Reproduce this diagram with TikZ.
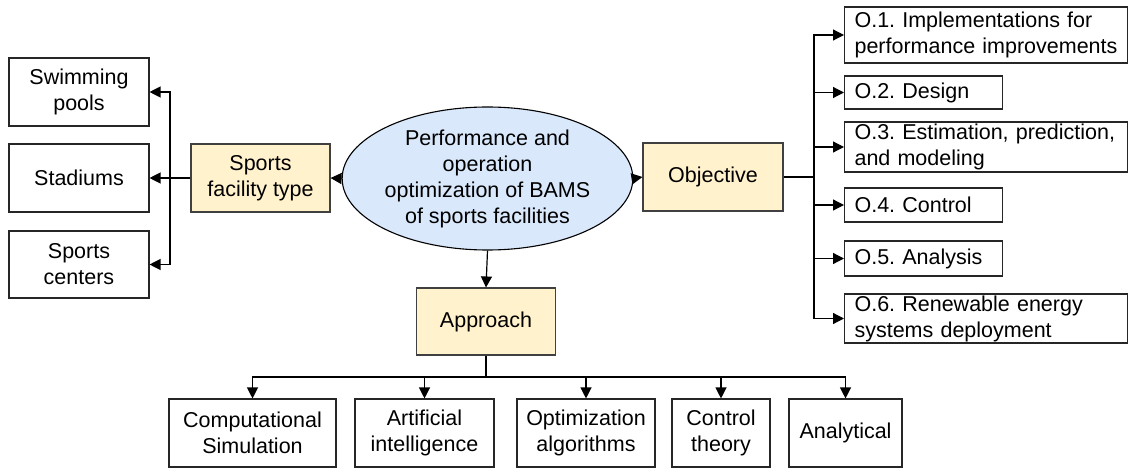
\documentclass[tikz,border=0pt]{standalone}
\usepackage{fontspec}
\setmainfont{Liberation Sans}
\usetikzlibrary{arrows.meta,shapes.geometric}
\definecolor{yel}{HTML}{FFF2CC}
\definecolor{blu}{HTML}{DAE8FC}
\frenchspacing
\begin{document}
\begin{tikzpicture}[x=1pt,y=-1pt,
  every node/.style={font=\fontsize{21.5}{26}\selectfont\frenchspacing, inner sep=0pt},
  wbox/.style={draw=black!85, fill=white, line width=1.1pt, align=center},
  ybox/.style={draw=black!75, fill=yel, line width=1.1pt, align=center},
  obox/.style={draw=black!85, fill=white, line width=1.1pt, anchor=west, align=left, inner xsep=10pt},
  conn/.style={line width=1.2pt, draw=black},
  arr/.style={conn, -{Triangle[length=11pt,width=11pt]}}]
\useasboundingbox (0,0) rectangle (1130,470);
% left
\node[wbox, minimum width=140pt, minimum height=68pt] (sp) at (79,92) {Swimming\\pools};
\node[wbox, minimum width=140pt, minimum height=68pt] (st) at (79,178) {Stadiums};
\node[wbox, minimum width=140pt, minimum height=67pt] (sc) at (79,264.5) {Sports\\centers};
\node[ybox, minimum width=139pt, minimum height=68pt] (sft) at (260.5,178) {Sports\\facility type};
% centre
\node[ellipse, draw=black, fill=blu, line width=1.1pt, minimum width=271pt, minimum height=143pt, align=center] (main) at (487.5,178.5) {Performance and\\operation\\optimization of BAMS\\of sports facilities};
\node[ybox, minimum width=140pt, minimum height=68pt] (obj) at (713,177) {Objective};
\node[ybox, minimum width=139pt, minimum height=67pt] (app) at (486,321.5) {Approach};
% right
\node[obox, text width=263pt, minimum height=56pt] (o1) at (844,35) {O.1. Implementations for\\performance improvements};
\node[obox, text width=138pt, minimum height=33pt] (o2) at (844,92.5) {O.2. Design};
\node[obox, text width=263pt, minimum height=50pt] (o3) at (844,147) {O.3. Estimation, prediction,\\and modeling};
\node[obox, text width=138pt, minimum height=34pt] (o4) at (844,205) {O.4. Control};
\node[obox, text width=138pt, minimum height=35pt] (o5) at (844,258.5) {O.5. Analysis};
\node[obox, text width=263pt, minimum height=49pt] (o6) at (844,318.5) {O.6. Renewable energy\\systems deployment};
% bottom
\node[wbox, minimum width=167pt, minimum height=68pt] (cs) at (252.5,433) {Computational\\Simulation};
\node[wbox, minimum width=139pt, minimum height=68pt] (ai) at (424.5,433) {Artificial\\intelligence};
\node[wbox, minimum width=138pt, minimum height=68pt] (oa) at (586,433) {Optimization\\algorithms};
\node[wbox, minimum width=98pt, minimum height=68pt] (ct) at (721,433) {Control\\theory};
\node[wbox, minimum width=113pt, minimum height=68pt] (an) at (845.5,433) {Analytical};
% junctions
\coordinate (lj) at (170,178);
\coordinate (rj) at (814,177);
\coordinate (bj) at (486,377);
% connectors
\draw[arr] (main.west) -- (sft.east);
\draw[arr] (main.east) -- (obj.west);
\draw[arr] (main.south) -- (app.north);
\draw[conn] (sft.west) -- (lj);
\draw[arr] (lj) |- (sp.east);
\draw[arr] (lj) -- (st.east);
\draw[arr] (lj) |- (sc.east);
\draw[conn] (obj.east) -- (rj);
\draw[arr] (rj) |- (o1.west);
\draw[arr] (rj) |- (o2.west);
\draw[arr] (rj) |- (o3.west);
\draw[arr] (rj) |- (o4.west);
\draw[arr] (rj) |- (o5.west);
\draw[arr] (rj) |- (o6.west);
\draw[conn] (app.south) -- (bj);
\draw[arr] (bj) -| (cs.north);
\draw[arr] (bj) -| (ai.north);
\draw[arr] (bj) -| (oa.north);
\draw[arr] (bj) -| (ct.north);
\draw[arr] (bj) -| (an.north);
\end{tikzpicture}
\end{document}
